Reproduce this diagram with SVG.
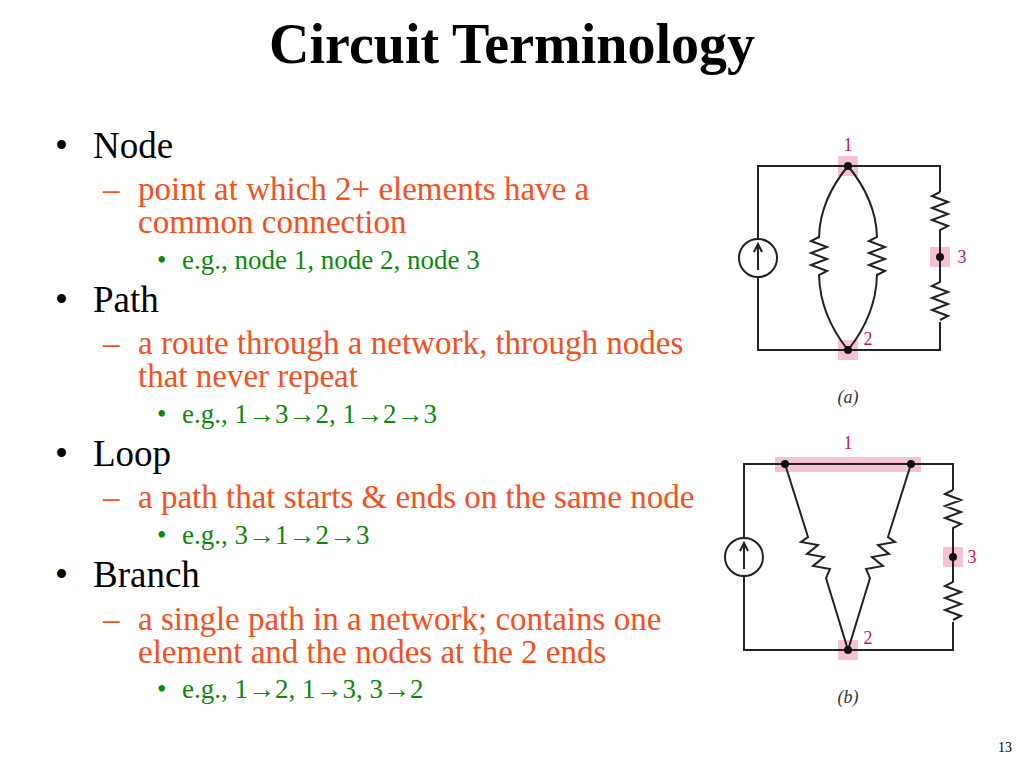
<svg xmlns="http://www.w3.org/2000/svg" width="1024" height="768" viewBox="0 0 1024 768">
<style>
text{font-family:"Liberation Serif","Times New Roman",serif}
.t{font-size:56px;font-weight:bold;fill:#000}
.l1{font-size:37px;fill:#000}
.l2{font-size:33px;fill:#F4511E}
.l3{font-size:27px;fill:#0A8A0A}
.w{fill:none;stroke:#222;stroke-width:2}
.hl{fill:#F4C2D4}
.d{fill:#111}
.lb{font-size:18px;fill:#C2185B}
.cap{font-size:18px;font-style:italic;fill:#333}
</style>
<rect width="1024" height="768" fill="#fff"/>
<text class="t" x="512" y="63" text-anchor="middle">Circuit Terminology</text>
<g id="text">
<text class="l1" x="55" y="158">•</text><text class="l1" x="93" y="158">Node</text>
<text class="l2" x="103" y="200">–</text><text class="l2" x="138" y="200">point at which 2+ elements have a</text>
<text class="l2" x="138" y="233">common connection</text>
<text class="l3" x="157" y="269">•</text><text class="l3" x="182" y="269">e.g., node 1, node 2, node 3</text>
<text class="l1" x="55" y="312">•</text><text class="l1" x="93" y="312">Path</text>
<text class="l2" x="103" y="354">–</text><text class="l2" x="138" y="354">a route through a network, through nodes</text>
<text class="l2" x="138" y="387">that never repeat</text>
<text class="l3" x="157" y="423">•</text><text class="l3" x="182" y="423">e.g., 1→3→2, 1→2→3</text>
<text class="l1" x="55" y="466">•</text><text class="l1" x="93" y="466">Loop</text>
<text class="l2" x="103" y="508">–</text><text class="l2" x="138" y="508">a path that starts &amp; ends on the same node</text>
<text class="l3" x="157" y="544">•</text><text class="l3" x="182" y="544">e.g., 3→1→2→3</text>
<text class="l1" x="55" y="587">•</text><text class="l1" x="93" y="587">Branch</text>
<text class="l2" x="103" y="630">–</text><text class="l2" x="138" y="630">a single path in a network; contains one</text>
<text class="l2" x="138" y="663">element and the nodes at the 2 ends</text>
<text class="l3" x="157" y="698">•</text><text class="l3" x="182" y="698">e.g., 1→2, 1→3, 3→2</text>
</g>
<g id="circuitA">
<rect class="hl" x="838" y="156" width="20" height="20"/>
<rect class="hl" x="838" y="340" width="20" height="20"/>
<rect class="hl" x="930" y="247" width="20" height="20"/>
<path class="w" d="M758,239 V166 H940 V192 M758,277 V350 H940 V322"/>
<circle class="w" cx="758" cy="258" r="19"/>
<path class="w" d="M758,270 V246 M754,252 L758,244 L762,252"/>
<path class="w" d="M940,192 l-8,4 l16,6 l-16,6 l16,6 l-16,6 l16,6 l-8,4 V282 l-8,4 l16,6 l-16,6 l16,6 l-16,6 l16,6 l-8,4"/>
<path class="w" d="M848,166 Q820,200 819,237 l-8,4 l16,6 l-16,6 l16,6 l-16,6 l16,6 l-8,4 Q820,315 848,350"/>
<path class="w" d="M848,166 Q876,200 877,237 l-8,4 l16,6 l-16,6 l16,6 l-16,6 l16,6 l-8,4 Q876,315 848,350"/>
<circle class="d" cx="848" cy="166" r="4"/><circle class="d" cx="848" cy="350" r="4"/><circle class="d" cx="940" cy="257" r="4"/>
<text class="lb" x="848" y="151" text-anchor="middle">1</text>
<text class="lb" x="962" y="263" text-anchor="middle">3</text>
<text class="lb" x="868" y="345" text-anchor="middle">2</text>
<text class="cap" x="848" y="403" text-anchor="middle">(a)</text>
</g>
<g id="circuitB">
<rect class="hl" x="775" y="457" width="146" height="15"/>
<rect class="hl" x="838" y="640" width="20" height="20"/>
<rect class="hl" x="943" y="547" width="20" height="20"/>
<path class="w" d="M744,538 V464 H953 V490 M744,576 V650 H953 V622"/>
<circle class="w" cx="744" cy="557" r="19"/>
<path class="w" d="M744,569 V545 M740,551 L744,543 L748,551"/>
<path class="w" d="M953,490 l-8,4 l16,6 l-16,6 l16,6 l-16,6 l16,6 l-8,4 V582 l-8,4 l16,6 l-16,6 l16,6 l-16,6 l16,6 l-8,4"/>
<path class="w" d="M785,464 L808,537 l-7,5 l17,3 l-11,9 l17,3 l-11,9 l17,3 l-4,9 L848,650"/>
<path class="w" d="M911,464 L888,537 l7,5 l-17,3 l11,9 l-17,3 l11,9 l-17,3 l4,9 L848,650"/>
<circle class="d" cx="785" cy="464" r="4"/><circle class="d" cx="911" cy="464" r="4"/><circle class="d" cx="848" cy="650" r="4"/><circle class="d" cx="953" cy="557" r="4"/>
<text class="lb" x="848" y="449" text-anchor="middle">1</text>
<text class="lb" x="972" y="563" text-anchor="middle">3</text>
<text class="lb" x="868" y="644" text-anchor="middle">2</text>
<text class="cap" x="848" y="703" text-anchor="middle">(b)</text>
</g>
<text x="1005" y="752" font-size="14" text-anchor="middle" style="font-family:'Liberation Serif',serif">13</text>
</svg>
